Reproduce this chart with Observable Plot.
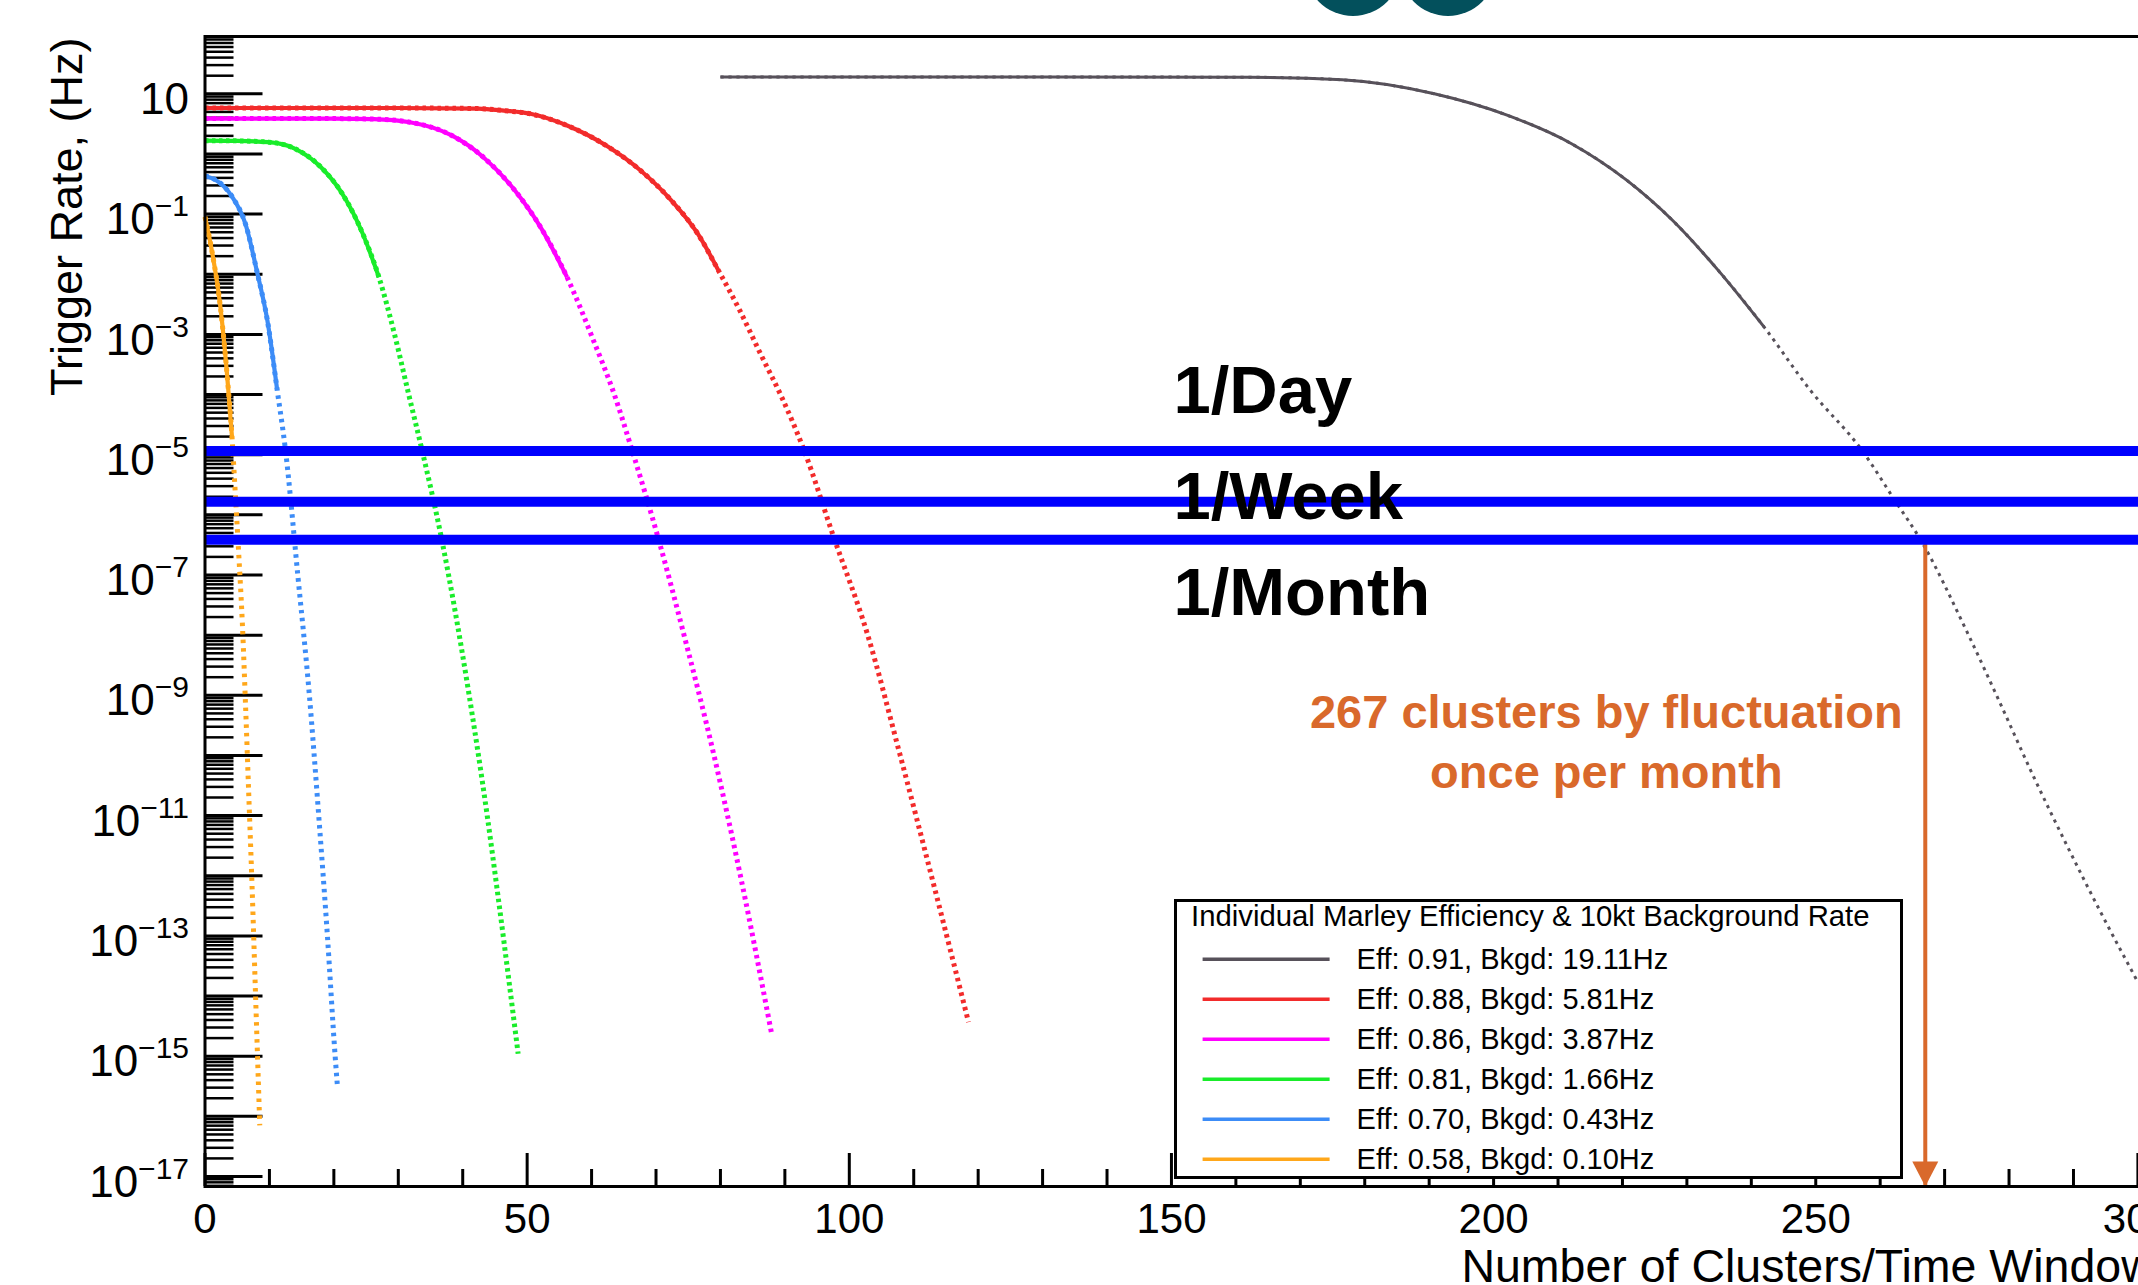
<!DOCTYPE html>
<html>
<head>
<meta charset="utf-8">
<script src="https://cdn.jsdelivr.net/npm/d3@7"></script>
<script src="https://cdn.jsdelivr.net/npm/@observablehq/plot@0.6"></script>
<style>
html, body { margin: 0; padding: 0; background: #fff; overflow: hidden; }
#wrap { position: relative; width: 2138px; height: 1285px; overflow: hidden; background: #fff;
        font-family: "Liberation Sans", Arial, Helvetica, sans-serif; }
#wrap svg.plotsvg { position: absolute; left: 0; top: 0; }
.logo { position: absolute; width: 96px; height: 96px; border-radius: 50%; background: #03505c; top: -80px; }
#legend { position: absolute; left: 1174px; top: 899px; width: 729px; height: 280px; box-sizing: border-box;
          border: 3px solid #000; background: #fff; }
</style>
</head>
<body>
<div id="wrap"></div>
<script>
// ---------------- data ----------------
const seriesNames = [
  "Eff: 0.91, Bkgd: 19.11Hz",
  "Eff: 0.88, Bkgd: 5.81Hz",
  "Eff: 0.86, Bkgd: 3.87Hz",
  "Eff: 0.81, Bkgd: 1.66Hz",
  "Eff: 0.70, Bkgd: 0.43Hz",
  "Eff: 0.58, Bkgd: 0.10Hz"
];
const seriesColors = ["#57515a", "#f22b2b", "#ff00ff", "#19ec2a", "#3c8cf7", "#ffa71a"];

// [clusters per time window, trigger rate (Hz)]
const curveEff091 = [[80,19.11],[120,19.11],[162,18.84],[176.5,17.1],[190.8,10.0],[202.2,4.37],[212.1,1.48],
  [220.7,0.363],[227.8,0.0782],[234.9,0.0115],[242.0,1.32e-3],[249.1,1.2e-4],[257.2,1.17e-5],[262.4,1.66e-6],
  [266.3,3.8e-7],[273.5,1.12e-8],[278.7,7.08e-10],[283.8,4.47e-11],[289.0,3.16e-12],[294.2,2.5e-13],[299.9,1.78e-14]];
const curveEff088 = [[0,5.81],[30,5.81],[42.4,5.69],[46.4,5.25],[50.5,4.65],[56.2,2.97],[62.7,1.29],[67.6,0.531],
  [72.4,0.168],[76.5,0.0468],[79.7,0.0115],[83.0,2.5e-3],[86.2,4.8e-4],[89.5,9.1e-5],[93.0,1.17e-5],[97.6,4.2e-7],
  [102.8,1.05e-8],[107.9,1.0e-10],[113.1,7.1e-13],[118.5,3.7e-15]];
const curveEff086 = [[0,3.87],[20,3.87],[26.2,3.80],[31.8,3.37],[38.3,2.03],[43.2,0.883],[48.1,0.247],[52.1,0.0603],
  [56.2,8.9e-3],[60.3,7.9e-4],[63.5,1.02e-4],[66.3,1.17e-5],[70.4,3.9e-7],[74.3,1.05e-8],[79.0,1.0e-10],
  [83.1,1.0e-12],[87.9,2.5e-15]];
const curveEff081 = [[0,1.66],[5,1.65],[9.9,1.57],[14.0,1.22],[18.0,0.603],[21.3,0.219],[24.5,0.0468],[27.0,8.9e-3],
  [29.4,1.02e-3],[31.6,1.02e-4],[33.7,1.17e-5],[36.7,4.1e-7],[41.0,1.0e-9],[43.8,1.0e-11],[45.5,4.4e-13],[48.6,1.1e-15]];
const curveEff070 = [[0,0.43],[1.6,0.372],[4.2,0.195],[6.3,0.0676],[8.1,0.0107],[9.7,1.66e-3],[11.2,1.2e-4],
  [12.5,1.17e-5],[14.4,1e-7],[16.2,1e-9],[17.65,1e-11],[19.0,1e-13],[20.2,1e-15],[20.55,3.2e-16]];
const curveEff058 = [[0,0.09],[1.1,0.0234],[2.4,2.8e-3],[3.45,2.0e-4],[4.2,1.9e-5],[4.7,2.3e-6],[5.25,2.1e-7],
  [5.8,1.55e-8],[6.3,6.5e-10],[6.8,2.1e-11],[7.3,6.9e-13],[7.85,1e-14],[8.5,7.1e-17]];

// reference rates: once per day / week / month (Hz)
const rateLabels = ["1/Day", "1/Week", "1/Month"];
const rateValues = [1.157e-5, 1.653e-6, 3.858e-7];

const thresholdClusters = 267;
const annotationText = "267 clusters by fluctuation\nonce per month";

const xTickLabels = [0, 50, 100, 150, 200, 250, 300];
const yTickLabels = [10, 1e-1, 1e-3, 1e-5, 1e-7, 1e-9, 1e-11, 1e-13, 1e-15, 1e-17];

const xTitle = "Number of Clusters/Time Window";
const yTitle = "Trigger Rate, (Hz)";
const legendTitle = "Individual Marley Efficiency & 10kt Background Rate";

// ---------------- layout / style ----------------
const curves = [curveEff091, curveEff088, curveEff086, curveEff081, curveEff070, curveEff058];
const curveStyle = [
  {w: 3,   dash: "3.2,4.8", solidFrom: 1.32e-3},
  {w: 5,   dash: "3.5,4",   solidFrom: 0.0115},
  {w: 5,   dash: "3.5,4",   solidFrom: 8.9e-3},
  {w: 5,   dash: "3.5,3.5", solidFrom: 8.9e-3},
  {w: 5,   dash: "3.5,4.5", solidFrom: 1.2e-4},
  {w: 5,   dash: "3.5,5",   solidFrom: 1.9e-5}
];
const W = 2320, H = 1285;
const mL = 204.5, mT = 36, mB = 99;
const xMax = 320, pxPerUnit = 6.443;
const plotW = xMax * pxPerUnit;
const mR = W - mL - plotW;
const plotH = H - mT - mB;
const yMin = 6.82e-18, yMax = 89.7;
const orange = "#d9692b";

// axis decoration ticks (ROOT style, drawn inside the frame)
const yMajor = [], yMinor = [];
for (let e = 1; e >= -17; e--) {
  yMajor.push(Math.pow(10, e));
  for (let m = 2; m <= 9; m++) {
    const v = m * Math.pow(10, e);
    if (v < yMax * 0.99) yMinor.push(v);
  }
}
[7e-18, 8e-18, 9e-18].forEach(v => yMinor.push(v));
const xMajor = d3.range(0, xMax + 1, 50);
const xMinor = d3.range(0, xMax + 1, 10).filter(v => v % 50 !== 0);

const triDown = {
  draw(ctx) { ctx.moveTo(-13, -25); ctx.lineTo(13, -25); ctx.lineTo(0, 0); ctx.closePath(); }
};

const curveMarks = [];
curves.forEach((data, i) => {
  const st = curveStyle[i];
  curveMarks.push(Plot.line(data, {x: d => d[0], y: d => d[1], stroke: seriesColors[i], strokeWidth: st.w,
    strokeDasharray: st.dash, strokeLinecap: "butt", curve: "monotone-x"}));
  curveMarks.push(Plot.line(data.filter(d => d[1] >= st.solidFrom), {x: d => d[0], y: d => d[1],
    stroke: seriesColors[i], strokeWidth: i === 0 ? 3 : 4.2, strokeLinecap: "butt", curve: "monotone-x"}));
});

const chart = Plot.plot({
  width: W, height: H,
  marginLeft: mL, marginRight: mR, marginTop: mT, marginBottom: mB,
  style: "max-width:none; overflow:visible; background:transparent; font-family:'Liberation Sans', Arial, Helvetica, sans-serif; font-size:42px; color:#000;",
  x: {domain: [0, xMax]},
  y: {type: "log", domain: [yMin, yMax]},
  marks: [
    // ticks
    Plot.ruleY(yMinor, {stroke: "#000", strokeWidth: 2.5, insetRight: plotW - 29}),
    Plot.ruleY(yMajor, {stroke: "#000", strokeWidth: 3, insetRight: plotW - 58}),
    Plot.ruleX(xMinor, {stroke: "#000", strokeWidth: 3, insetTop: plotH - 17}),
    Plot.ruleX(xMajor, {stroke: "#000", strokeWidth: 3, insetTop: plotH - 33}),
    // curves
    ...curveMarks,
    // orange arrow
    Plot.ruleX([thresholdClusters], {y1: rateValues[2], y2: yMin, stroke: orange, strokeWidth: 4}),
    Plot.dot([thresholdClusters], {x: d => d, frameAnchor: "bottom", symbol: triDown, fill: orange, stroke: "none"}),
    // reference rate lines
    Plot.ruleY(rateValues, {stroke: "#0000ff", strokeWidth: 10}),
    // rate labels
    Plot.text(rateLabels, {x: 150.3, y: [1.12e-4, 1.95e-6, 4.9e-8], text: d => d, textAnchor: "start",
      fontWeight: "bold", fontSize: 67, fill: "#000"}),
    // annotation
    Plot.text([annotationText], {x: 217.5, y: 1.89e-10, text: d => d, textAnchor: "middle",
      fontWeight: "bold", fontSize: 47, lineHeight: 1.277, fill: orange}),
    // axes labels
    Plot.axisY({ticks: yTickLabels, tickSize: 0, tickPadding: 16, dy: 6, fontSize: 44, label: null,
      tickFormat: d => { const e = Math.round(Math.log10(d)); return e === 1 ? "10" : "10^" + (e < 0 ? "\u2212" : "") + Math.abs(e); }}),
    Plot.axisX({ticks: xTickLabels, tickSize: 0, tickPadding: 17, fontSize: 42, label: null, tickFormat: d => String(d)}),
    Plot.text([yTitle], {frameAnchor: "top-left", rotate: -90, textAnchor: "end", dx: -155, dy: 1,
      fontSize: 45, text: d => d, fill: "#000"}),
    Plot.text([xTitle], {x: 195, frameAnchor: "bottom", dy: 95, textAnchor: "start", fontSize: 46.5, text: d => d, fill: "#000"}),
    Plot.frame({stroke: "#000", strokeWidth: 3})
  ]
});

const svg = chart.tagName.toLowerCase() === "svg" ? chart : chart.querySelector("svg");
svg.classList.add("plotsvg");

// superscripts for the log labels
const NS = "http://www.w3.org/2000/svg";
svg.querySelectorAll('g[aria-label="y-axis tick label"] text').forEach(t => {
  const s = t.textContent;
  if (!s.includes("^")) return;
  const [b, e] = s.split("^");
  t.textContent = b;
  const ts = document.createElementNS(NS, "tspan");
  ts.setAttribute("dy", "-18");
  ts.setAttribute("font-size", "30");
  ts.textContent = e;
  t.appendChild(ts);
});

const wrap = document.getElementById("wrap");
wrap.appendChild(chart);

// partial logo circles at the top of the slide
[1352.5, 1448.3].forEach(cx => {
  const d = document.createElement("div");
  d.className = "logo";
  d.style.left = (cx - 48) + "px";
  wrap.appendChild(d);
});

// legend box
const leg = d3.select(wrap).append("div").attr("id", "legend");
const lsvg = leg.append("svg").attr("width", 723).attr("height", 274)
  .style("display", "block").style("font-family", "'Liberation Sans', Arial, Helvetica, sans-serif");
lsvg.append("text").attr("x", 14).attr("y", 24).attr("font-size", 29.3).attr("fill", "#000").text(legendTitle);
seriesNames.forEach((name, k) => {
  lsvg.append("line").attr("x1", 25.6).attr("x2", 152.6).attr("y1", 57.3 + 40 * k).attr("y2", 57.3 + 40 * k)
    .attr("stroke", seriesColors[k]).attr("stroke-width", 3.5);
  lsvg.append("text").attr("x", 179.6).attr("y", 67 + 40 * k).attr("font-size", 29).attr("fill", "#000").text(name);
});
</script>
</body>
</html>
